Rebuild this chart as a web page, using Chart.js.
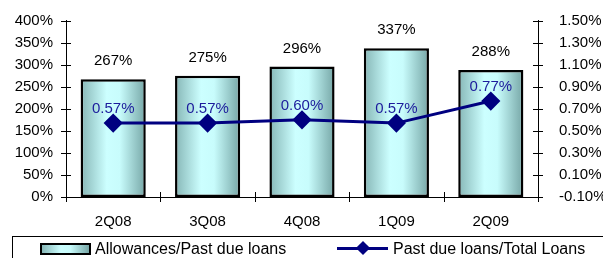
<!DOCTYPE html>
<html>
<head>
<meta charset="utf-8">
<script src="https://cdn.jsdelivr.net/npm/chart.js@4/dist/chart.umd.min.js"></script>
<style>
  body { margin: 0; background: #fff; }
  #wrap { position: relative; width: 603px; height: 258px; overflow: hidden; }
  #legend {
    position: absolute; left: 12px; top: 236px; width: 640px; height: 40px;
    border-top: 1px solid #000; border-left: 1px solid #000;
    font-family: "Liberation Sans", Arial, sans-serif; font-size: 16px; color: #000;
  }
  .item { position: absolute; top: 3px; line-height: 18px; white-space: nowrap; }
  .swatch {
    position: absolute; left: 27px; top: 6px; width: 47px; height: 8px;
    border: 2px solid #000;
    background: linear-gradient(to right, #86b6b6, #ccffff 40%, #c8fcfc 60%, #76a6a6);
  }
  .lineSw { position: absolute; left: 324px; top: 10px; width: 51px; height: 3px; background: #000080; }
  .dia { position: absolute; left: 345px; top: 6px; width: 10px; height: 10px; background: #000080; transform: rotate(45deg); }
</style>
</head>
<body>
<div id="wrap">
  <canvas id="chart" width="603" height="258"></canvas>
  <div id="legend">
    <div class="swatch"></div>
    <div class="item" style="left:82px">Allowances/Past due loans</div>
    <div class="lineSw"></div>
    <div class="dia"></div>
    <div class="item" style="left:380px">Past due loans/Total Loans</div>
  </div>
</div>
<script>
// data
const quarters = ["2Q08", "3Q08", "4Q08", "1Q09", "2Q09"];
const allowances = [267, 275, 296, 337, 288];      // %
const pastDue = [0.57, 0.57, 0.60, 0.57, 0.77];    // %

const font = { family: "Liberation Sans", size: 15, lineHeight: 1 };
const barPct = 0.69;

function barFill(context) {
  const chart = context.chart;
  const a = chart.chartArea;
  if (!a || !isFinite(a.left)) return "#b0e0e0";
  const step = (a.right - a.left) / quarters.length;
  const cx = a.left + step * (context.dataIndex + 0.5);
  const half = step * barPct / 2;
  const g = chart.ctx.createLinearGradient(cx - half, 0, cx + half, 0);
  g.addColorStop(0, "#86b6b6");
  g.addColorStop(0.4, "#ccffff");
  g.addColorStop(0.6, "#c8fcfc");
  g.addColorStop(1, "#76a6a6");
  return g;
}

// tick marks that cross the axes, plus value labels
const extras = {
  id: "extras",
  afterDatasetsDraw(chart) {
    const ctx = chart.ctx;
    const y = chart.scales.y, y1 = chart.scales.y1;
    const a = chart.chartArea;
    ctx.save();
    ctx.strokeStyle = "#000";
    ctx.lineWidth = 1;
    ctx.beginPath();
    y.ticks.forEach(t => {
      const py = Math.round(y.getPixelForValue(t.value)) + 0.5;
      ctx.moveTo(a.left - 5, py); ctx.lineTo(a.left + 5, py);
    });
    y1.ticks.forEach(t => {
      const py = Math.round(y1.getPixelForValue(t.value)) + 0.5;
      ctx.moveTo(a.right - 5, py); ctx.lineTo(a.right + 5, py);
    });
    const step = (a.right - a.left) / quarters.length;
    for (let i = 0; i <= quarters.length; i++) {
      const px = Math.round(a.left + i * step) + 0.5;
      ctx.moveTo(px, a.bottom - 5); ctx.lineTo(px, a.bottom + 5);
    }
    ctx.stroke();

    ctx.font = "15px 'Liberation Sans'";
    ctx.textAlign = "center";
    ctx.textBaseline = "middle";
    chart.getDatasetMeta(1).data.forEach((el, i) => {
      ctx.fillStyle = "#000";
      ctx.fillText(allowances[i] + "%", el.x, el.y - 18);
    });
    chart.getDatasetMeta(0).data.forEach((el, i) => {
      ctx.fillStyle = "#1c1c9c";
      ctx.fillText(pastDue[i].toFixed(2) + "%", el.x, el.y - 14);
    });
    ctx.restore();
  }
};

new Chart(document.getElementById("chart"), {
  data: {
    labels: quarters,
    datasets: [
      {
        type: "line",
        label: "Past due loans/Total Loans",
        data: pastDue,
        yAxisID: "y1",
        borderColor: "#000080",
        backgroundColor: "#000080",
        borderWidth: 3,
        pointStyle: "rectRot",
        pointRadius: 7.5,
        pointHoverRadius: 7.5,
        tension: 0,
        order: 0
      },
      {
        type: "bar",
        label: "Allowances/Past due loans",
        data: allowances,
        yAxisID: "y",
        backgroundColor: barFill,
        borderColor: "#000",
        borderWidth: 2.5,
        borderSkipped: false,
        barPercentage: barPct,
        categoryPercentage: 1,
        order: 1
      }
    ]
  },
  options: {
    responsive: false,
    animation: false,
    layout: { padding: { top: 6, bottom: 21, left: 0, right: 0 } },
    plugins: { legend: { display: false }, tooltip: { enabled: false } },
    scales: {
      x: {
        grid: { display: false },
        border: { display: true, color: "#000", width: 1 },
        ticks: { color: "#000", font: font, padding: 9 },
        afterFit(s) { s.height = 40; }
      },
      y: {
        position: "left",
        min: 0, max: 400,
        grid: { display: false },
        border: { display: true, color: "#000", width: 1 },
        ticks: { stepSize: 50, color: "#000", font: font, padding: 5, callback: v => v + "%" },
        afterFit(s) { s.width = 66; }
      },
      y1: {
        position: "right",
        min: -0.1, max: 1.5,
        grid: { display: false },
        border: { display: true, color: "#000", width: 1 },
        ticks: { stepSize: 0.2, color: "#000", font: font, padding: 13, callback: v => v.toFixed(2) + "%" },
        afterFit(s) { s.width = 65; }
      }
    }
  },
  plugins: [extras]
});
</script>
</body>
</html>
